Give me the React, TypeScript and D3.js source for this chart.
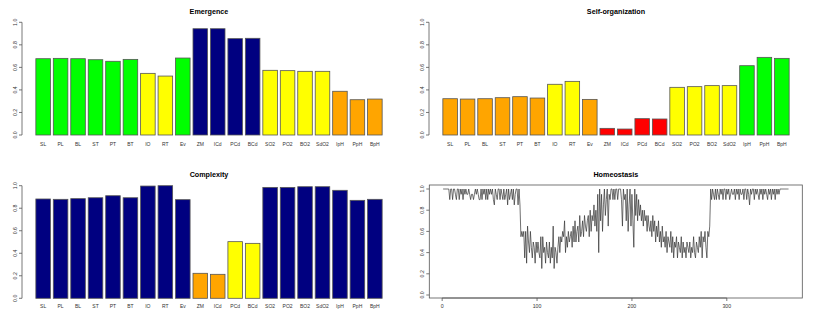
import React from 'react';
import * as d3 from 'd3';

// categories shared by the three bar panels
const categories = ["SL", "PL", "BL", "ST", "PT", "BT", "IO", "RT", "Ev", "ZM", "ICd", "PCd", "BCd", "SO2", "PO2", "BO2", "SdO2", "IpH", "PpH", "BpH"];

const emergence = [0.677, 0.68, 0.677, 0.668, 0.654, 0.671, 0.547, 0.523, 0.683, 0.943, 0.943, 0.855, 0.858, 0.574, 0.571, 0.565, 0.565, 0.388, 0.313, 0.319];
const emergenceColors = ["green", "green", "green", "green", "green", "green", "yellow", "yellow", "green", "navy", "navy", "navy", "navy", "yellow", "yellow", "yellow", "yellow", "orange", "orange", "orange"];

const selfOrg = [0.322, 0.319, 0.322, 0.331, 0.34, 0.328, 0.45, 0.476, 0.316, 0.059, 0.053, 0.145, 0.142, 0.423, 0.429, 0.438, 0.438, 0.615, 0.689, 0.68];
const selfOrgColors = ["orange", "orange", "orange", "orange", "orange", "orange", "yellow", "yellow", "orange", "red", "red", "red", "red", "yellow", "yellow", "yellow", "yellow", "green", "green", "green"];

const complexity = [0.882, 0.879, 0.885, 0.893, 0.911, 0.893, 0.997, 1.0, 0.876, 0.222, 0.213, 0.503, 0.488, 0.985, 0.985, 0.991, 0.991, 0.959, 0.87, 0.879];
const complexityColors = ["navy", "navy", "navy", "navy", "navy", "navy", "navy", "navy", "navy", "orange", "orange", "yellow", "yellow", "navy", "navy", "navy", "navy", "navy", "navy", "navy"];

// daily homeostasis values, day 1..365
const homeostasis = [
  1, 1, 1, 1, 1, 1, 1, 0.9, 1, 1, 0.9, 1, 1, 0.95, 0.9, 1, 1, 0.9, 1, 0.95,
  1, 0.9, 1, 0.95, 1, 0.95, 0.95, 1, 0.95, 0.9, 0.95, 0.95, 0.9, 0.95, 1, 0.95, 1, 0.95, 0.9, 0.9,
  1, 0.9, 1, 0.95, 1, 0.9, 1, 0.9, 1, 0.95, 1, 0.95, 1, 0.9, 0.85, 1, 0.95, 0.9, 1, 1,
  0.9, 1, 0.95, 0.9, 1, 0.9, 0.95, 1, 0.85, 1, 0.9, 0.95, 1, 0.9, 1, 0.85, 0.95, 1, 1, 0.85,
  1, 0.85, 0.55, 0.6, 0.55, 0.6, 0.35, 0.6, 0.3, 0.65, 0.5, 0.4, 0.6, 0.45, 0.35, 0.5, 0.45, 0.3, 0.5, 0.4,
  0.5, 0.4, 0.35, 0.55, 0.25, 0.55, 0.4, 0.45, 0.3, 0.5, 0.4, 0.35, 0.5, 0.3, 0.45, 0.35, 0.65, 0.25, 0.45, 0.4,
  0.3, 0.45, 0.55, 0.4, 0.55, 0.5, 0.6, 0.55, 0.7, 0.4, 0.55, 0.45, 0.6, 0.5, 0.55, 0.6, 0.45, 0.65, 0.5, 0.7,
  0.5, 0.6, 0.65, 0.5, 0.75, 0.55, 0.6, 0.7, 0.55, 0.75, 0.65, 0.6, 0.7, 0.75, 0.55, 0.8, 0.6, 0.75, 0.7, 0.85,
  0.65, 0.8, 0.6, 0.95, 0.4, 1, 0.7, 0.95, 0.6, 0.85, 1, 0.75, 0.9, 1, 0.65, 0.95, 0.9, 1, 1, 0.9,
  1, 0.9, 1, 1, 0.9, 1, 1, 1, 0.9, 0.65, 1, 0.9, 0.95, 0.7, 1, 0.6, 0.85, 1, 0.65, 0.95,
  0.7, 0.45, 1, 0.75, 0.95, 0.7, 0.9, 0.75, 0.85, 0.7, 0.8, 0.65, 0.8, 0.7, 0.75, 0.6, 0.75, 0.65, 0.6, 0.7,
  0.55, 0.75, 0.6, 0.7, 0.5, 0.65, 0.55, 0.7, 0.5, 0.6, 0.45, 0.65, 0.5, 0.55, 0.45, 0.6, 0.4, 0.55, 0.5, 0.45,
  0.6, 0.4, 0.55, 0.35, 0.5, 0.45, 0.55, 0.35, 0.5, 0.45, 0.4, 0.55, 0.35, 0.5, 0.4, 0.45, 0.35, 0.5, 0.45, 0.4,
  0.5, 0.35, 0.45, 0.4, 0.55, 0.4, 0.35, 0.5, 0.45, 0.4, 0.55, 0.45, 0.6, 0.35, 0.55, 0.5, 0.6, 0.45, 0.35, 0.6,
  0.55, 0.65, 1, 0.9, 1, 0.95, 0.9, 1, 0.9, 1, 0.95, 0.9, 1, 0.95, 1, 0.9, 1, 1, 0.9, 1,
  0.95, 1, 0.9, 0.95, 1, 0.95, 0.95, 1, 0.9, 1, 0.95, 1, 0.9, 1, 0.95, 0.95, 1, 0.9, 1, 1,
  0.9, 1, 0.95, 0.85, 1, 0.95, 1, 1, 0.9, 1, 0.95, 1, 0.95, 0.9, 1, 0.95, 1, 0.9, 1, 0.95,
  1, 0.95, 0.9, 1, 0.95, 1, 0.9, 1, 0.95, 1, 0.9, 1, 0.95, 1, 0.95, 1, 1, 1, 1, 1,
  1, 1, 1, 1, 1
];

const yTicks = [0, 0.2, 0.4, 0.6, 0.8, 1.0];
const dayTicks = [0, 100, 200, 300];

const fillOf: Record<string, string> = {
  green: "#00FF00",
  yellow: "#FFFF00",
  orange: "#FFA500",
  navy: "#000080",
  red: "#FF0000",
};

const FONT = "'Liberation Sans', Arial, Helvetica, sans-serif";
const AXIS = "#555";

type BarProps = {
  title: string;
  values: number[];
  colors: string[];
  left: number;
  right: number;
  y0: number; // pixel of value 0
  y1: number; // pixel of value 1
  titleY: number;
  labelY: number;
};

const BarPanel = ({ title, values, colors, left, right, y0, y1, titleY, labelY }: BarProps) => {
  // R barplot: width 1, space 0.2, xlim extended 4%
  const n = values.length;
  const lo = 0.2, hi = 1.2 * n;
  const ext = 0.04 * (hi - lo);
  const x = d3.scaleLinear().domain([lo - ext, hi + ext]).range([left, right]);
  const y = d3.scaleLinear().domain([0, 1]).range([y0, y1]);
  return (
    <g fontFamily={FONT}>
      <text x={(left + right) / 2} y={titleY} textAnchor="middle" fontSize={7.2} fontWeight="bold" fill="#000">{title}</text>
      {values.map((v, i) => {
        const bl = 0.2 + 1.2 * i;
        return (
          <rect key={i} x={x(bl)} y={y(v)} width={x(bl + 1) - x(bl)} height={y(0) - y(v)}
            fill={fillOf[colors[i]]} stroke={AXIS} strokeWidth={0.8} />
        );
      })}
      {categories.map((c, i) => (
        <text key={c} x={x(0.7 + 1.2 * i)} y={labelY} textAnchor="middle" fontSize={5} fill="#333">{c}</text>
      ))}
      <line x1={left} x2={left} y1={y(0)} y2={y(1)} stroke={AXIS} strokeWidth={0.8} />
      {yTicks.map(t => (
        <g key={t}>
          <line x1={left - 3} x2={left} y1={y(t)} y2={y(t)} stroke={AXIS} strokeWidth={0.8} />
          <text transform={`translate(${left - 7},${y(t)}) rotate(-90)`} textAnchor="middle" dominantBaseline="central" fontSize={5.2} fill="#333">{t.toFixed(1)}</text>
        </g>
      ))}
    </g>
  );
};

const LinePanel = () => {
  const left = 429.3, right = 802.3, top = 185, bottom = 298;
  const n = homeostasis.length;
  const ext = 0.04 * (n - 1);
  const x = d3.scaleLinear().domain([1 - ext, n + ext]).range([left, right]);
  const y = d3.scaleLinear().domain([0, 1]).range([295, 189]);
  const line = d3.line<number>().x((_, i) => x(i + 1)).y(d => y(d));
  return (
    <g fontFamily={FONT}>
      <text x={(left + right) / 2} y={177} textAnchor="middle" fontSize={7.2} fontWeight="bold" fill="#000">Homeostasis</text>
      <rect x={left} y={top} width={right - left} height={bottom - top} fill="none" stroke={AXIS} strokeWidth={0.8} />
      <path d={line(homeostasis) || ""} fill="none" stroke="#333" strokeWidth={0.7} />
      {yTicks.map(t => (
        <g key={t}>
          <line x1={left - 3} x2={left} y1={y(t)} y2={y(t)} stroke={AXIS} strokeWidth={0.8} />
          <text transform={`translate(${left - 7.5},${y(t)}) rotate(-90)`} textAnchor="middle" dominantBaseline="central" fontSize={5.2} fill="#333">{t.toFixed(1)}</text>
        </g>
      ))}
      <line x1={x(0)} x2={x(300)} y1={bottom} y2={bottom} stroke={AXIS} strokeWidth={0.8} />
      {dayTicks.map(t => (
        <g key={t}>
          <line x1={x(t)} x2={x(t)} y1={bottom} y2={bottom + 3} stroke={AXIS} strokeWidth={0.8} />
          <text x={x(t)} y={308} textAnchor="middle" fontSize={5.2} fill="#333">{t}</text>
        </g>
      ))}
    </g>
  );
};

export default function App() {
  return (
    <div style={{ position: "absolute", left: 0, top: 0, width: 814, height: 326, background: "#fff" }}>
      <svg width={814} height={326} viewBox="0 0 814 326">
        <rect width={814} height={326} fill="#fff" />
        <BarPanel title="Emergence" values={emergence} colors={emergenceColors}
          left={22} right={396} y0={135} y1={22.3} titleY={13.5} labelY={146} />
        <BarPanel title="Self-organization" values={selfOrg} colors={selfOrgColors}
          left={429} right={803} y0={135} y1={22.3} titleY={13.5} labelY={146} />
        <BarPanel title="Complexity" values={complexity} colors={complexityColors}
          left={22} right={396} y0={298.3} y1={185.7} titleY={177} labelY={308} />
        <LinePanel />
      </svg>
    </div>
  );
}
